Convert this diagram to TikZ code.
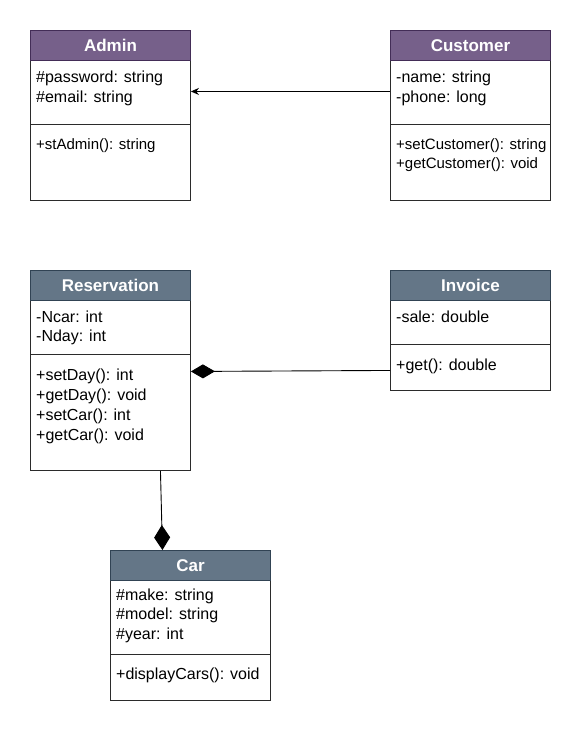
\documentclass[tikz,border=0pt]{standalone}
\usepackage{fontspec}
\setmainfont{Liberation Sans}
\usetikzlibrary{arrows.meta,calc}
\definecolor{purpF}{HTML}{76608A}
\definecolor{purpD}{HTML}{432D57}
\definecolor{slateF}{HTML}{647687}
\definecolor{slateD}{HTML}{314354}
\definecolor{edgec}{HTML}{2B2B2B}
\begin{document}
\begin{tikzpicture}[x=1pt,y=-1pt,
 classbox/.style={draw=edgec, line width=0.9pt, fill=white, anchor=north west, inner sep=0pt, minimum width=160pt},
 hdr/.style={draw, line width=0.9pt, anchor=north west, inner sep=0pt, minimum height=30pt, minimum width=160pt, text=white, font=\fontsize{17}{20}\selectfont\bfseries},
 txt/.style={anchor=base west, inner sep=0pt, font=\fontsize{16}{20}\selectfont},
 txts/.style={anchor=base west, inner sep=0pt, font=\fontsize{15}{20}\selectfont},
 divider/.style={draw=edgec, line width=0.9pt},
 conn/.style={line width=0.9pt, draw=black},
]
\useasboundingbox (0,0) rectangle (581,734);
\fill[white] (0,0) rectangle (581,734);

% Admin
\node[classbox, minimum height=170pt] (admin) at (30,30) {};
\node[hdr, fill=purpF, draw=purpD] (adminH) at (30,30) {Admin};
\draw[divider] (30,124) -- (190,124);
\node[txt] (adminA1) at (36,82) {\#password: string};
\node[txt] (adminA2) at (36,102) {\#email: string};
\node[txts] (adminM1) at (36,149) {+stAdmin(): string};

% Customer
\node[classbox, minimum height=170pt] (cust) at (390,30) {};
\node[hdr, fill=purpF, draw=purpD] (custH) at (390,30) {Customer};
\draw[divider] (390,124) -- (550,124);
\node[txt] (custA1) at (396,82) {-name: string};
\node[txt] (custA2) at (396,102) {-phone: long};
\node[txts] (custM1) at (396,149) {+setCustomer(): string};
\node[txts] (custM2) at (396,168) {+getCustomer(): void};

% Reservation
\node[classbox, minimum height=200pt] (res) at (30,270) {};
\node[hdr, fill=slateF, draw=slateD] (resH) at (30,270) {Reservation};
\draw[divider] (30,354) -- (190,354);
\node[txt] (resA1) at (36,322) {-Ncar: int};
\node[txt] (resA2) at (36,341) {-Nday: int};
\node[txt] (resM1) at (36,380) {+setDay(): int};
\node[txt] (resM2) at (36,400) {+getDay(): void};
\node[txt] (resM3) at (36,420) {+setCar(): int};
\node[txt] (resM4) at (36,440) {+getCar(): void};

% Invoice
\node[classbox, minimum height=120pt] (inv) at (390,270) {};
\node[hdr, fill=slateF, draw=slateD] (invH) at (390,270) {Invoice};
\draw[divider] (390,344) -- (550,344);
\node[txt] (invA1) at (396,322) {-sale: double};
\node[txt] (invM1) at (396,370) {+get(): double};

% Car
\node[classbox, minimum height=150pt] (car) at (110,550) {};
\node[hdr, fill=slateF, draw=slateD] (carH) at (110,550) {Car};
\draw[divider] (110,654) -- (270,654);
\node[txt] (carA1) at (116,600) {\#make: string};
\node[txt] (carA2) at (116,619) {\#model: string};
\node[txt] (carA3) at (116,639) {\#year: int};
\node[txt] (carM1) at (116,679) {+displayCars(): void};

% connectors
\draw[conn, -{Stealth[length=8pt,width=7pt]}] ($(cust.west)+(0,-24)$) -- ($(admin.east)+(0,-24)$);
\draw[conn, -{Diamond[length=24pt,width=14pt]}] ($(inv.west)+(0,40)$) -- ($(res.east)+(0,1)$);
\draw[conn, -{Diamond[length=25pt,width=16pt]}] ($(res.south)+(50,0)$) -- ($(car.north)+(-28,0)$);
\end{tikzpicture}
\end{document}
